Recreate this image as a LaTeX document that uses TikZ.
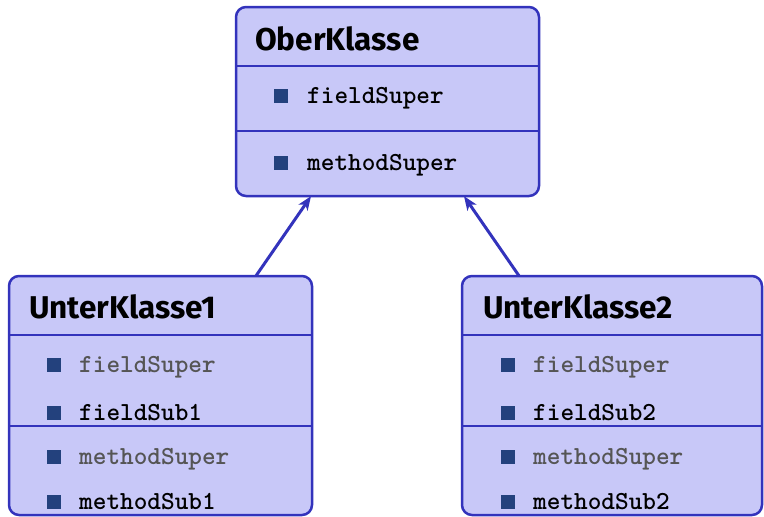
\documentclass[tikz,border=0pt]{standalone}
\usepackage{fontspec}
\newfontfamily\titlefont{Fira Sans}
\newfontfamily\monob[Extension=.otf]{lmmonolt10-bold}
\usetikzlibrary{arrows.meta}
\definecolor{umlborder}{RGB}{51,51,188}
\definecolor{umlfill}{RGB}{200,200,248}
\definecolor{umlbullet}{RGB}{35,65,125}
\definecolor{inherited}{RGB}{85,85,85}
\tikzset{
  classbox/.style={draw=umlborder, fill=umlfill, line width=2.5pt, rounded corners=10pt},
  sepline/.style={draw=umlborder, line width=2pt},
  ctitle/.style={anchor=base west, inner sep=0pt, font=\titlefont\bfseries\fontsize{31.5}{36}\selectfont},
  member/.style={anchor=base west, inner sep=0pt, font=\monob\fontsize{26}{30}\selectfont},
  inh/.style={member, text=inherited},
  own/.style={member, text=black},
  bul/.style={fill=umlbullet, draw=none, minimum size=14pt, inner sep=0pt, anchor=south west},
  inherit/.style={draw=umlborder, line width=3pt, -{Stealth[length=14pt,width=11pt,inset=4pt]}}
}
\begin{document}
\begin{tikzpicture}[x=1pt,y=-1pt]
\useasboundingbox (0,0) rectangle (764,517);
% Oberklasse
\path[classbox] (236,7) rectangle (539,196);
\node[inner sep=0pt, minimum width=303pt, minimum height=189pt] (ober) at (387.5,101.5) {};
\draw[sepline] (236,66) -- (539,66);
\draw[sepline] (236,131) -- (539,131);
\node[ctitle] (oberT) at (255,50) {OberKlasse};
\node[bul] (ob1) at (274,103) {};
\node[own] (of1) at (307,103) {fieldSuper};
\node[bul] (ob2) at (274,170) {};
\node[own] (om1) at (307,170) {methodSuper};
% Unterklasse1
\path[classbox] (9,276) rectangle (312,515);
\node[inner sep=0pt, minimum width=303pt, minimum height=239pt] (sub1) at (160.5,395.5) {};
\draw[sepline] (9,335) -- (312,335);
\draw[sepline] (9,426) -- (312,426);
\node[ctitle] (s1T) at (29,318) {UnterKlasse1};
\node[bul] (s1b1) at (47,372) {};
\node[inh] (s1f1) at (79,372) {fieldSuper};
\node[bul] (s1b2) at (47,420) {};
\node[own] (s1f2) at (79,420) {fieldSub1};
\node[bul] (s1b3) at (47,464) {};
\node[inh] (s1m1) at (79,464) {methodSuper};
\node[bul] (s1b4) at (47,509) {};
\node[own] (s1m2) at (79,509) {methodSub1};
% Unterklasse2
\path[classbox] (462,276) rectangle (762,515);
\node[inner sep=0pt, minimum width=300pt, minimum height=239pt] (sub2) at (612,395.5) {};
\draw[sepline] (462,335) -- (762,335);
\draw[sepline] (462,426) -- (762,426);
\node[ctitle] (s2T) at (483,318) {UnterKlasse2};
\node[bul] (s2b1) at (501,372) {};
\node[inh] (s2f1) at (533,372) {fieldSuper};
\node[bul] (s2b2) at (501,420) {};
\node[own] (s2f2) at (533,420) {fieldSub2};
\node[bul] (s2b3) at (501,464) {};
\node[inh] (s2m1) at (533,464) {methodSuper};
\node[bul] (s2b4) at (501,509) {};
\node[own] (s2m2) at (533,509) {methodSub2};
% inheritance arrows
\coordinate (a1s) at (sub1.north -| 256,0);
\coordinate (a1e) at (ober.south -| 311,0);
\coordinate (a2s) at (sub2.north -| 519,0);
\coordinate (a2e) at (ober.south -| 464,0);
\draw[inherit] (a1s) -- (a1e);
\draw[inherit] (a2s) -- (a2e);
\end{tikzpicture}
\end{document}
